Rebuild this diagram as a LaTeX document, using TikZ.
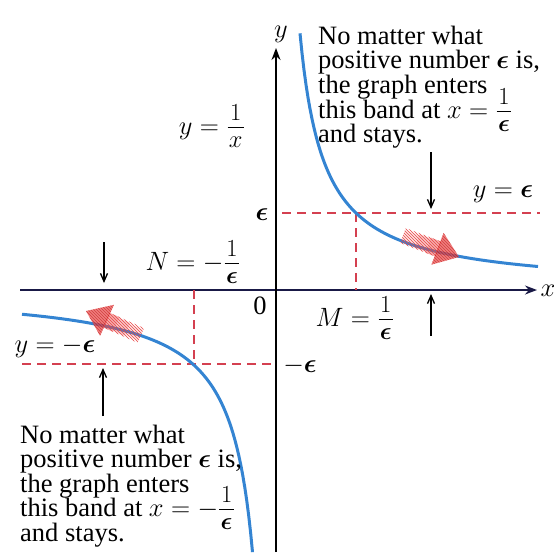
\RequirePackage{fix-cm}
\documentclass[tikz,border=0pt]{standalone}
\usepackage{amsmath}
\usepackage{bm}
\usepackage{fontspec}
\setmainfont{Liberation Serif}
\usetikzlibrary{arrows.meta,patterns}
\definecolor{curveblue}{RGB}{52,132,210}
\definecolor{dashred}{RGB}{212,64,80}
\definecolor{axisnavy}{RGB}{25,25,70}
\definecolor{arrred}{RGB}{232,70,70}
\newcommand\eps{\bm{\epsilon}}
\newcommand\fr[2]{\frac{\mbox{\raisebox{3pt}{\fontsize{24.5}{24}\selectfont$\mkern1mu#1\mkern1mu$}}}{\mbox{\raisebox{-4pt}{\fontsize{24.5}{24}\selectfont$\mkern1mu#2\mkern1mu$}}}}
\tikzset{
  lbl/.style={inner sep=0pt, font=\fontsize{26.5}{24.5}\selectfont},
  txtline/.style={lbl, anchor=base west},
  axisline/.style={line width=1.6pt, -{Stealth[length=12pt,width=9pt]}},
  bandline/.style={dashred, line width=1.6pt, dash pattern=on 9pt off 6pt},
  curve/.style={curveblue, line width=3pt},
  pointer/.style={line width=1.3pt, -{Straight Barb[length=8pt,width=7pt]}},
  fatarrow/.pic={
    \fill[arrred, opacity=0.15] (-60,-6) -- (-45,-6) -- (-45,6) -- (-60,6) -- cycle;
    \fill[arrred, opacity=0.3] (-45,-7) -- (-33,-7) -- (-33,7) -- (-45,7) -- cycle;
    \fill[arrred, opacity=0.45] (-33,-8) -- (-22,-8) -- (-22,8) -- (-33,8) -- cycle;
    \fill[pattern=north west lines, pattern color=arrred] (-60,-8) -- (-22,-8) -- (-22,8) -- (-60,8) -- cycle;
    \fill[arrred, opacity=0.7] (-23,-17) -- (0,0) -- (-23,17) -- cycle;
    \fill[pattern=north west lines, pattern color=red!70!black, opacity=0.5] (-23,-17) -- (0,0) -- (-23,17) -- cycle;
  },
}
\begin{document}
\begin{tikzpicture}[x=1pt,y=-1pt]
\useasboundingbox (0,0) rectangle (554,552);
% named points
\coordinate (O) at (276,290);
\coordinate (xl) at (20,290);
\coordinate (xr) at (537,290);
\coordinate (yb) at (276,552);
\coordinate (yt) at (276,48);
\coordinate (epsL) at (282,213);
\coordinate (epsR) at (540,213);
\coordinate (Mtop) at (356,213);
\coordinate (Mbot) at (356,290);
\coordinate (meL) at (22,364);
\coordinate (meR) at (272,364);
\coordinate (Ntop) at (194,290);
\coordinate (Nbot) at (194,364);
% axes
\draw[axisline, axisnavy] (xl) -- (xr);
\draw[axisline] (yb) -- (yt);
\node[lbl] (ylab) at (281,34) {$y$};
\node[lbl] (xlab) at (548,291) {$x$};
% band lines
\draw[bandline] (epsL) -- (epsR);
\draw[bandline] (Mtop) -- (Mbot);
\draw[bandline] (meL) -- (meR);
\draw[bandline] (Ntop) -- (Nbot);
% curves
\draw[curve] plot[domain=24:262, samples=120] ({276+\x},{290-6160/\x});
\draw[curve] plot[domain=-254:-23.5, samples=120] ({276+\x},{290-6160/\x});
% red arrows
\pic[rotate=-21] at (459,257) {fatarrow};
\pic[rotate=156] at (86,311) {fatarrow};
% labels
\node[lbl] (epslab) at (262,215) {$\eps$};
\node[lbl] (meplab) at (300,366) {$-\eps$};
\node[lbl] (zero) at (260,306) {0};
\node[lbl] (fn) at (212,126) {$y=\fr{1}{x}$};
\node[lbl] (Nlab) at (193,262) {$N=-\fr{1}{\eps}$};
\node[lbl] (Mlab) at (355,318) {$M=\fr{1}{\eps}$};
\node[lbl] (yeps) at (503,194) {$y=\eps$};
\node[lbl] (ymeps) at (55,347) {$y=-\eps$};
% pointer arrows
\coordinate (p1s) at (104,242); \coordinate (p1e) at (104,283);
\coordinate (p2s) at (431,336); \coordinate (p2e) at (431,294);
\coordinate (p3s) at (431,152); \coordinate (p3e) at (431,209);
\coordinate (p4s) at (103,416); \coordinate (p4e) at (103,368);
\draw[pointer] (p1s) -- (p1e);
\draw[pointer] (p2s) -- (p2e);
\draw[pointer] (p3s) -- (p3e);
\draw[pointer] (p4s) -- (p4e);
% upper text
\node[txtline] (u1) at (318,44) {No matter what};
\node[txtline] (u2) at (318,68) {positive number $\eps$ is,};
\node[txtline] (u3) at (318,93) {the graph enters};
\node[txtline] (u4) at (318,118) {this band at $x=\fr{1}{\eps}$};
\node[txtline] (u5) at (318,142) {and stays.};
% lower text
\node[txtline] (l1) at (20,443) {No matter what};
\node[txtline] (l2) at (20,467) {positive number $\eps$ is,};
\node[txtline] (l3) at (20,492) {the graph enters};
\node[txtline] (l4) at (20,516) {this band at $x=-\fr{1}{\eps}$};
\node[txtline] (l5) at (20,541) {and stays.};
\end{tikzpicture}
\end{document}
